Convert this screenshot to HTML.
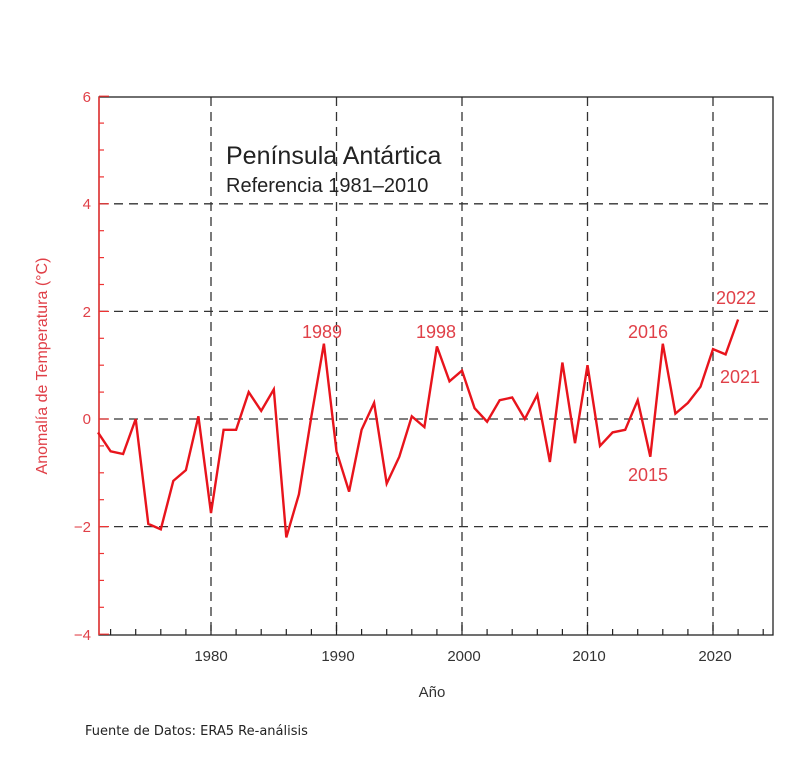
<!DOCTYPE html>
<html><head><meta charset="utf-8"><style>
body{margin:0;background:#fff;width:800px;height:771px;overflow:hidden}
svg{display:block;font-family:"Liberation Sans",sans-serif}
</style></head><body>
<svg id="s" width="800" height="771" xmlns="http://www.w3.org/2000/svg">
<rect x="0" y="0" width="800" height="771" fill="#fff"/>
<g id="grid" stroke="#333" stroke-width="1.3" stroke-dasharray="9,6" fill="none"></g>
<rect x="99" y="97" width="674" height="538" fill="none" stroke="#222" stroke-width="1.3"/>
<line x1="99" y1="97" x2="99" y2="635" stroke="#e33" stroke-width="1.5"/>
<g id="ticks"></g>
<polyline id="line" fill="none" stroke="#e8141c" stroke-width="2.4" stroke-linejoin="miter"/>
<g fill="#e04048" font-size="15" text-anchor="end">
<text x="91" y="102">6</text><text x="91" y="209">4</text><text x="91" y="317">2</text>
<text x="91" y="424">0</text><text x="91" y="532">−2</text><text x="91" y="640">−4</text>
</g>
<g fill="#333" font-size="15" text-anchor="middle">
<text x="211" y="661">1980</text><text x="338" y="661">1990</text><text x="464" y="661">2000</text>
<text x="589" y="661">2010</text><text x="715" y="661">2020</text>
<text x="432" y="697">Año</text>
</g>
<text transform="translate(47,366) rotate(-90)" text-anchor="middle" fill="#e04048" font-size="16">Anomalía de Temperatura (°C)</text>
<text x="226" y="164" font-size="25" fill="#222">Península Antártica</text>
<text x="226" y="192" font-size="20" fill="#222">Referencia 1981–2010</text>
<g fill="#e04048" font-size="18">
<text x="302" y="338">1989</text><text x="416" y="338">1998</text>
<text x="628" y="338">2016</text><text x="628" y="481">2015</text>
<text x="716" y="304">2022</text><text x="720" y="383">2021</text>
</g>
<text x="85" y="735" font-size="13" fill="#222" font-family="'DejaVu Sans',sans-serif">Fuente de Datos: ERA5 Re-análisis</text>
</svg>
<script>
var d=[-0.25,-0.6,-0.65,0,-1.95,-2.05,-1.15,-0.95,0.05,-1.75,-0.2,-0.2,0.5,0.15,0.55,-2.2,-1.4,0.05,1.4,-0.6,-1.35,-0.2,0.3,-1.2,-0.7,0.05,-0.15,1.35,0.7,0.9,0.2,-0.05,0.35,0.4,0,0.45,-0.8,1.05,-0.45,1.0,-0.5,-0.25,-0.2,0.35,-0.7,1.4,0.1,0.3,0.6,1.3,1.2,1.85];
function X(y){return 211+(y-1980)*12.55}function Y(v){return 419-53.8*v}
document.getElementById('line').setAttribute('points',d.map(function(v,i){return X(1971+i).toFixed(1)+','+Y(v).toFixed(1)}).join(' '));
var g=document.getElementById('grid'),h='';
[1980,1990,2000,2010,2020].forEach(function(y){h+='<line x1="'+X(y)+'" y1="97" x2="'+X(y)+'" y2="635"/>'});
[4,2,0,-2].forEach(function(v){h+='<line x1="99" y1="'+Y(v)+'" x2="773" y2="'+Y(v)+'"/>'});
g.innerHTML=h;
var t='';
for(var y=1972;y<=2024;y+=2){var L=(y%10==0)?10:6;t+='<line x1="'+X(y)+'" y1="635" x2="'+X(y)+'" y2="'+(635-L)+'" stroke="#222" stroke-width="1.2"/>'}
for(var v=-4;v<=6;v+=0.5){var L=(v%2==0)?10:5;t+='<line x1="99" y1="'+Y(v)+'" x2="'+(99+L)+'" y2="'+Y(v)+'" stroke="#e33" stroke-width="1.2"/>'}
document.getElementById('ticks').innerHTML=t;
</script>
</body></html>
